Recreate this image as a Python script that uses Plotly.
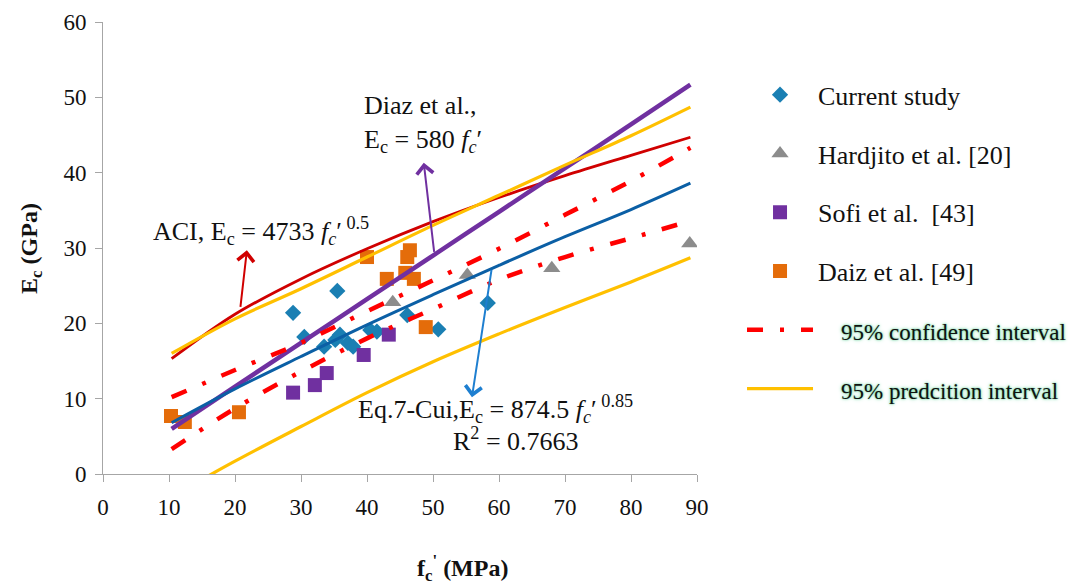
import plotly.graph_objects as go

# ---------------- data ----------------
cur_x = [28.8, 35.5, 30.5, 33.5, 35.2, 35.9, 37.1, 37.9, 40.5, 41.5, 46.1, 50.8, 58.3]
cur_y = [21.4, 24.3, 18.2, 16.9, 17.8, 18.5, 17.4, 16.9, 19.1, 18.9, 21.1, 19.2, 22.7]

har_x = [43.9, 55.2, 68.0, 88.9]
har_y = [22.8, 26.4, 27.3, 30.6]

sofi_x = [28.8, 32.1, 33.9, 39.5, 43.3]
sofi_y = [10.8, 11.8, 13.4, 15.8, 18.5]

daiz_x = [10.3, 12.4, 20.6, 40.0, 43.0, 45.8, 46.1, 46.5, 47.1, 48.9]
daiz_y = [7.7, 6.9, 8.2, 28.8, 25.9, 26.7, 28.8, 29.7, 25.9, 19.5]

curve_x = [10.4, 20, 30, 40, 50, 60, 70, 80, 89]
aci_y   = [15.3, 21.2, 25.9, 29.9, 33.5, 36.7, 39.6, 42.3, 44.7]
diaz_y  = [6.0, 11.6, 17.4, 23.2, 29.0, 34.8, 40.6, 46.4, 51.7]
fit_y   = [6.8, 11.3, 15.6, 19.8, 23.8, 27.7, 31.5, 35.1, 38.6]
ci_up   = [10.2, 13.8, 17.4, 21.6, 25.7, 29.9, 34.4, 38.9, 43.3]
ci_lo   = [3.3, 8.7, 13.6, 18.0, 21.9, 25.8, 28.8, 31.3, 33.6]
pi_up   = [16.0, 20.6, 24.6, 28.8, 33.0, 37.0, 41.0, 44.9, 48.7]
pi_lo   = [-3.0, 1.7, 6.3, 10.8, 14.9, 18.6, 22.1, 25.5, 28.7]

x_ticks = [0, 10, 20, 30, 40, 50, 60, 70, 80, 90]
y_ticks = [0, 10, 20, 30, 40, 50, 60]

SERIF = "Liberation Serif"
NB = "\u00a0" * 4
glow_style = "font-size:23px; text-shadow: 0 0 2px #4cc98a, 0 0 4px #9fe3c0;"

fig = go.Figure()

def mk(name, xs, ys, symbol, color, size, group):
    fig.add_trace(go.Scatter(x=xs, y=ys, mode="markers", name=name,
                             legendgroup=group,
                             marker=dict(symbol=symbol, color=color, size=size,
                                         line=dict(width=0))))

mk("Current study", cur_x, cur_y, "diamond", "#1A7FB3", 12.5, "g1")
mk("Hardjito et al. [20]", har_x, har_y, "triangle-up", "#8C8C8C", 15, "g2")
mk("Sofi et al.  [43]", sofi_x, sofi_y, "square", "#7030A0", 14, "g3")
mk("Daiz et al. [49]", daiz_x, daiz_y, "square", "#E46C0A", 14, "g4")

def ln(xs, ys, color, width, dash="solid", name=None, show=False, group=None):
    fig.add_trace(go.Scatter(x=xs, y=ys, mode="lines", name=name, showlegend=show,
                             legendgroup=group,
                             line=dict(color=color, width=width, dash=dash, shape="spline")))

ln(curve_x, aci_y, "#D00000", 2.8)
ln(curve_x, diaz_y, "#7030A0", 4.5)
ln(curve_x, fit_y, "#0B5FA5", 3)
ln(curve_x, ci_up, "#FF0000", 4.5, "16px,17px,4px,17px",
   f'<span style="{glow_style}">{NB}95% confidence interval</span>', True, "g5")
ln(curve_x, ci_lo, "#FF0000", 4.5, "16px,17px,4px,17px", None, False, "g5")
ln(curve_x, pi_up, "#FFC000", 3.2, "solid",
   f'<span style="{glow_style}">{NB}95% predcition interval</span>', True, "g6")
ln(curve_x, pi_lo, "#FFC000", 3.2, "solid", None, False, "g6")

annotations = []
tfont = dict(family=SERIF, size=26, color="#111111")
annotations.append(dict(x=24.0, y=32.3, xref="x", yref="y", showarrow=False,
                        text="ACI, E<sub>c</sub> = 4733 <i>f<sub>c</sub></i>′<sup> 0.5</sup>",
                        font=tfont))
annotations.append(dict(x=39.2, y=46.5, xref="x", yref="y", showarrow=False,
                        xanchor="left", align="left",
                        text="Diaz et al.,<br>E<sub>c</sub> = 580 <i>f<sub>c</sub></i>′",
                        font=tfont))
annotations.append(dict(x=59.5, y=8.6, xref="x", yref="y", showarrow=False,
                        text="Eq.7-Cui,E<sub>c</sub> = 874.5 <i>f<sub>c</sub></i>′<sup> 0.85</sup>",
                        font=tfont))
annotations.append(dict(x=62.6, y=4.6, xref="x", yref="y", showarrow=False,
                        text="R<sup>2</sup> = 0.7663", font=tfont))

def arrow(x_head, y_head, x_tail, y_tail, color):
    annotations.append(dict(x=x_head, y=y_head, ax=x_tail, ay=y_tail,
                            xref="x", yref="y", axref="x", ayref="y",
                            text="", showarrow=True, arrowhead=4, arrowsize=1.6,
                            arrowwidth=2, arrowcolor=color))

arrow(21.8, 29.7, 20.8, 22.0, "#D00000")
arrow(48.6, 41.3, 50.2, 29.3, "#7030A0")
arrow(55.9, 10.2, 58.9, 27.3, "#1E7FD0")

# axis titles
annotations.append(dict(x=0.606, y=-0.250, xref="paper", yref="paper", showarrow=False,
                        text="<b>f<sub>c</sub><sup>'</sup> (MPa)</b>",
                        font=dict(family=SERIF, size=24, color="#111111")))
annotations.append(dict(x=-0.150, y=0.5, xref="paper", yref="paper", showarrow=False,
                        textangle=-90,
                        text="<b>E<sub>c</sub> (GPa)</b>",
                        font=dict(family=SERIF, size=24, color="#111111")))

tick_font = dict(family=SERIF, size=23, color="#111111")
fig.update_layout(
    width=1074, height=584,
    margin=dict(l=103, r=377, t=22, b=110, autoexpand=False),
    paper_bgcolor="white", plot_bgcolor="white",
    font=dict(family=SERIF, size=23, color="#111111"),
    annotations=annotations,
    legend=dict(x=1.0758, y=0.891, xanchor="left", yanchor="top",
                font=dict(family=SERIF, size=26, color="#111111"),
                itemwidth=66, tracegroupgap=22, bgcolor="rgba(0,0,0,0)"),
)
fig.update_xaxes(range=[0, 90], tickvals=x_ticks, ticktext=[str(v) for v in x_ticks],
                 showgrid=False, zeroline=False, showline=True, linecolor="#A6A6A6",
                 linewidth=1, ticks="outside", ticklen=7, tickcolor="#A6A6A6",
                 tickfont=tick_font, ticklabelstandoff=5)
fig.update_yaxes(range=[0, 60], tickvals=y_ticks, ticktext=[str(v) for v in y_ticks],
                 showgrid=False, zeroline=False, showline=True, linecolor="#A6A6A6",
                 linewidth=1, ticks="outside", ticklen=7, tickcolor="#A6A6A6",
                 tickfont=tick_font, ticklabelstandoff=4)

fig.write_html("out.html")
